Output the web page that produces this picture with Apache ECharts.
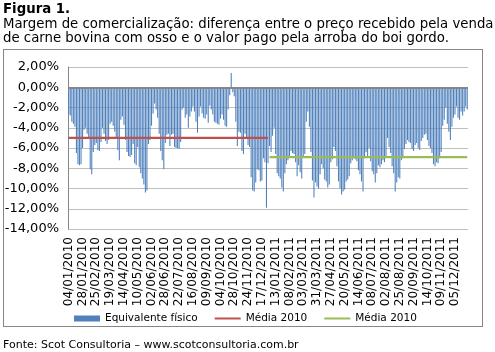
<!DOCTYPE html>
<html>
<head>
<meta charset="utf-8">
<script src="https://cdn.jsdelivr.net/npm/echarts@6/dist/echarts.min.js"></script>
<style>
  html, body { margin: 0; padding: 0; background: #fff; }
  #main { width: 495px; height: 352px; }
</style>
</head>
<body>
<div id="main"></div>
<script>
  // rótulos do eixo x (um a cada 9 barras)
  var tickLabels = ['04/01/2010','28/01/2010','25/02/2010','19/03/2010','14/04/2010','10/05/2010',
    '02/06/2010','28/06/2010','22/07/2010','16/08/2010','09/09/2010','04/10/2010','28/10/2010',
    '24/11/2010','17/12/2010','13/01/2011','08/02/2011','03/03/2011','31/03/2011','27/04/2011',
    '20/05/2011','14/06/2011','08/07/2011','02/08/2011','25/08/2011','20/09/2011','14/10/2011',
    '09/11/2011','05/12/2011']

  // equivalente físico (%)
  var equivalente = [
    -2.7,-2.8,-3.4,-3.6,-3.9,-6.5,-7.6,-7.7,-7.6,-6.0,
    -4.2,-4.0,-4.6,-5.1,-8.1,-8.6,-6.4,-5.7,-5.5,-6.2,
    -6.3,-5.4,-4.0,-4.6,-5.3,-5.6,-5.2,-3.6,-3.4,-3.8,
    -4.4,-5.0,-6.2,-7.2,-3.2,-2.9,-3.7,-5.2,-6.4,-6.8,
    -6.9,-6.7,-5.6,-7.5,-7.7,-5.9,-7.9,-8.5,-9.0,-9.6,
    -10.4,-10.2,-5.6,-5.2,-3.8,-2.6,-1.6,-2.2,-3.0,-4.6,
    -6.3,-7.2,-8.1,-5.5,-4.7,-4.6,-5.8,-4.7,-4.6,-5.9,
    -6.0,-6.0,-6.1,-5.4,-2.2,-2.0,-3.0,-2.7,-4.0,-2.9,
    -2.4,-1.9,-2.4,-3.4,-4.5,-2.9,-1.9,-2.6,-3.0,-3.1,
    -2.7,-3.5,-1.8,-2.2,-2.7,-3.4,-3.5,-3.6,-3.7,-3.1,
    -2.7,-3.2,-3.8,-3.9,-2.2,-0.8,1.4,-0.5,-0.9,-3.4,
    -5.8,-4.4,-4.5,-6.3,-6.6,-4.6,-5.0,-5.7,-5.9,-8.9,
    -10.2,-10.3,-9.4,-8.1,-8.2,-9.3,-9.2,-7.0,-7.4,-11.9,
    -7.5,-5.8,-6.4,-4.8,-4.0,-6.6,-8.5,-8.8,-9.0,-9.9,
    -10.3,-8.5,-7.6,-7.2,-6.8,-6.3,-6.5,-6.6,-7.4,-8.8,
    -7.7,-8.4,-9.0,-6.8,-6.6,-3.4,-2.4,-3.9,-6.4,-9.2,
    -10.9,-9.4,-9.8,-10.0,-8.6,-7.6,-8.0,-9.1,-9.3,-9.9,
    -9.6,-7.4,-7.1,-5.9,-6.3,-7.8,-9.3,-10.0,-10.6,-10.3,
    -10.1,-9.3,-9.1,-8.8,-7.5,-7.2,-7.0,-7.1,-7.3,-8.2,
    -8.6,-9.3,-10.3,-7.0,-6.4,-6.8,-6.0,-7.3,-8.3,-8.6,
    -9.4,-8.5,-7.7,-7.9,-7.6,-7.2,-7.4,-6.9,-5.0,-5.9,
    -6.5,-7.8,-8.5,-10.3,-9.4,-8.9,-9.0,-7.2,-7.0,-6.1,
    -5.6,-5.2,-5.4,-5.5,-6.1,-6.3,-5.7,-5.5,-6.0,-6.2,
    -5.3,-5.0,-4.7,-4.6,-5.2,-5.8,-6.0,-6.5,-7.6,-7.8,
    -7.4,-7.5,-7.0,-6.4,-3.8,-3.2,-2.0,-3.6,-4.4,-5.2,
    -3.9,-3.0,-2.7,-1.9,-3.0,-3.2,-2.4,-2.8,-2.4,-1.9,
    -2.2
  ]

  // médias anuais (%)
  var media2010 = -5.0
  var media2011 = -6.9
  var ultimoIndice2010 = 130

  var categorias = equivalente.map(function (v, i) {
    return i % 9 === 0 ? tickLabels[i / 9] : ''
  })
  var serie2010 = equivalente.map(function (v, i) { return i <= ultimoIndice2010 ? media2010 : null })
  var serie2011 = equivalente.map(function (v, i) { return i > ultimoIndice2010 ? media2011 : null })

  var fonte = 'DejaVu Sans'
  var corMoldura = '#868686'
  var myChart = echarts.init(document.getElementById('main'))

  var option = {
    animation: false,
    backgroundColor: '#fff',
    textStyle: { fontFamily: fonte },
    graphic: [
      { type: 'text', x: 3, y: 3, style: { text: 'Figura 1.', font: 'bold 13.3px "DejaVu Sans"', fill: '#000' } },
      { type: 'text', x: 3, y: 18, style: { text: 'Margem de comercialização: diferença entre o preço recebido pela venda', font: '13.3px "DejaVu Sans"', fill: '#000' } },
      { type: 'text', x: 3, y: 32, style: { text: 'de carne bovina com osso e o valor pago pela arroba do boi gordo.', font: '13.3px "DejaVu Sans"', fill: '#000' } },
      { type: 'text', x: 3, y: 340, style: { text: 'Fonte: Scot Consultoria – www.scotconsultoria.com.br', font: '11px "DejaVu Sans"', fill: '#000' } },
      // moldura (quatro faixas de 1px)
      { type: 'rect', shape: { x: 3, y: 49, width: 480, height: 1 }, style: { fill: corMoldura } },
      { type: 'rect', shape: { x: 3, y: 326, width: 480, height: 1 }, style: { fill: corMoldura } },
      { type: 'rect', shape: { x: 3, y: 49, width: 1, height: 278 }, style: { fill: corMoldura } },
      { type: 'rect', shape: { x: 482, y: 49, width: 1, height: 278 }, style: { fill: corMoldura } }
    ],
    legend: {
      left: 74,
      top: 313,
      padding: 0,
      itemWidth: 26,
      itemHeight: 6,
      itemGap: 16,
      textStyle: { fontSize: 10.5, color: '#000' },
      formatter: function (name) { return name.trim() },
      data: [
        { name: 'Equivalente físico', icon: 'rect' },
        { name: 'Média 2010', itemStyle: { opacity: 0 } },
        { name: 'Média 2010 ', itemStyle: { opacity: 0 } }
      ]
    },
    grid: { left: 68, right: 27, top: 67, bottom: 123 },
    xAxis: {
      type: 'category',
      data: categorias,
      axisLine: { show: false },
      axisTick: { show: false },
      axisLabel: { interval: 8, rotate: 90, fontSize: 12, color: '#000', margin: 8 }
    },
    yAxis: {
      type: 'value',
      min: -14,
      max: 2,
      interval: 2,
      axisLine: { show: true, lineStyle: { color: '#868686' } },
      axisTick: { show: false },
      splitLine: { lineStyle: { color: '#bfbfbf' } },
      axisLabel: {
        fontSize: 13, color: '#000', margin: 9,
        formatter: function (v) { return v.toFixed(2).replace('.', ',') + '%' }
      }
    },
    series: [
      {
        name: 'Equivalente físico',
        type: 'bar',
        data: equivalente,
        barCategoryGap: '30%',
        itemStyle: { color: '#4F81BD' },
        markLine: {
          silent: true,
          symbol: 'none',
          label: { show: false },
          lineStyle: { color: '#868686', width: 2, type: 'solid' },
          data: [{ yAxis: 0 }]
        }
      },
      {
        name: 'Média 2010',
        type: 'line',
        data: serie2010,
        symbol: 'none',
        lineStyle: { color: '#C0504D', width: 2.25 },
        itemStyle: { color: '#C0504D' }
      },
      {
        name: 'Média 2010 ',
        type: 'line',
        data: serie2011,
        symbol: 'none',
        lineStyle: { color: '#9BBB59', width: 2.25 },
        itemStyle: { color: '#9BBB59' }
      }
    ]
  }

  myChart.setOption(option)
</script>
</body>
</html>
